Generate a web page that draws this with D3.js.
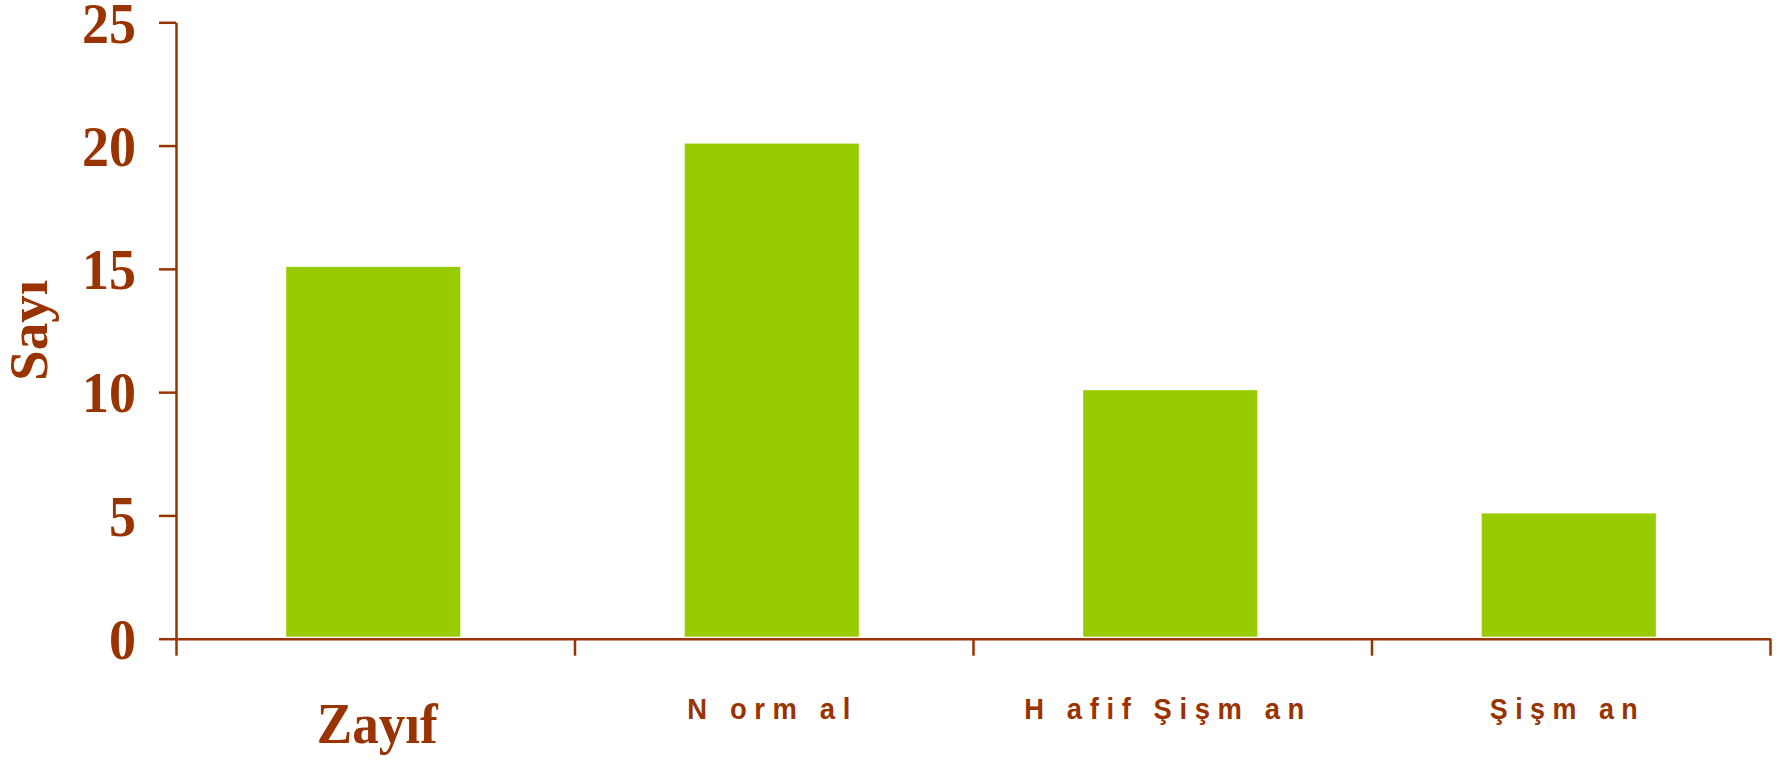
<!DOCTYPE html>
<html>
<head>
<meta charset="utf-8">
<script src="https://cdn.jsdelivr.net/npm/d3@7"></script>
<style>
  html, body { margin: 0; padding: 0; background: #ffffff; }
  svg { display: block; }
</style>
</head>
<body>
<svg id="chart" width="1787" height="764"></svg>
<script>
// Category names and counts
const categories = ["Zayıf", "Normal", "Hafif Şişman", "Şişman"];
const counts = [15, 20, 10, 5];
const yTicks = [0, 5, 10, 15, 20, 25];
// Spaced-out label text as set on the category axis
const axisLabels = ["Zayıf", "N   o r m   a l", "H   a f i f   Ş i ş m   a n", "Ş i ş m   a n"];

const brown = "#993300";
const green = "#99CC00";

const plot = { left: 176, right: 1770, top: 22.3, bottom: 638.7 };

const svg = d3.select("#chart");

const x = d3.scaleBand()
  .domain(categories)
  .range([plot.left, plot.right])
  .padding(0);

// Boundary positions for the category tick marks
const xEdge = d3.scaleLinear()
  .domain([0, categories.length])
  .range([plot.left, plot.right]);

const y = d3.scaleLinear()
  .domain([0, 25])
  .range([plot.bottom, plot.top]);

// Bars
const barW = x.bandwidth() * 0.437;
svg.append("g")
  .selectAll("rect")
  .data(categories)
  .join("rect")
  .attr("x", d => x(d) + x.bandwidth() / 2 - barW / 2 - 2)
  .attr("y", (d, i) => y(counts[i]) - 2)
  .attr("width", barW)
  .attr("height", (d, i) => y(0) - y(counts[i]))
  .attr("fill", green);

const serif = "'Liberation Serif', 'Times New Roman', serif";
const sans = "'Liberation Sans', Arial, sans-serif";

// Y axis
const yAxis = svg.append("g")
  .attr("transform", `translate(${plot.left},0)`)
  .call(d3.axisLeft(y)
    .tickValues(yTicks)
    .tickSizeInner(17)
    .tickSizeOuter(0)
    .tickPadding(23)
    .tickFormat(d3.format("d")));
yAxis.select(".domain").attr("stroke", brown).attr("stroke-width", 2.5);
yAxis.selectAll(".tick line").attr("stroke", brown).attr("stroke-width", 2.5);
yAxis.selectAll(".tick text")
  .attr("fill", brown)
  .attr("font-family", serif)
  .attr("font-weight", "bold")
  .attr("font-size", 58)
  .attr("dy", "0.34em")
  .attr("textLength", d => String(d).length * 27)
  .attr("lengthAdjust", "spacingAndGlyphs");

// X axis (tick marks at the category boundaries)
const xAxis = svg.append("g")
  .attr("transform", `translate(0,${plot.bottom})`)
  .call(d3.axisBottom(xEdge)
    .tickValues(d3.range(categories.length + 1))
    .tickSizeInner(17)
    .tickSizeOuter(0)
    .tickFormat(""));
xAxis.select(".domain").attr("stroke", brown).attr("stroke-width", 2.5);
xAxis.selectAll(".tick line").attr("stroke", brown).attr("stroke-width", 2.5);

// Category labels
const labelStyles = [
  { family: serif, size: 57, baseline: 743, len: 121, dx: 2 },
  { family: sans, size: 29, baseline: 719, len: 163, dx: -5 },
  { family: sans, size: 29, baseline: 719, len: 280, dx: -8 },
  { family: sans, size: 29, baseline: 719, len: 148, dx: -7 }
];
svg.append("g")
  .selectAll("text")
  .data(categories)
  .join("text")
  .attr("x", d => x(d) + x.bandwidth() / 2)
  .attr("dx", (d, i) => labelStyles[i].dx)
  .attr("y", (d, i) => labelStyles[i].baseline)
  .attr("text-anchor", "middle")
  .attr("fill", brown)
  .attr("font-weight", "bold")
  .attr("font-family", (d, i) => labelStyles[i].family)
  .attr("font-size", (d, i) => labelStyles[i].size)
  .attr("textLength", (d, i) => labelStyles[i].len)
  .attr("lengthAdjust", "spacingAndGlyphs")
  .style("white-space", "pre")
  .text((d, i) => axisLabels[i]);

// Y axis title
svg.append("text")
  .attr("transform", `translate(47,${(plot.top + plot.bottom) / 2}) rotate(-90)`)
  .attr("text-anchor", "middle")
  .attr("fill", brown)
  .attr("font-family", serif)
  .attr("font-weight", "bold")
  .attr("font-size", 55)
  .attr("textLength", 101)
  .attr("lengthAdjust", "spacingAndGlyphs")
  .text("Sayı");
</script>
</body>
</html>
